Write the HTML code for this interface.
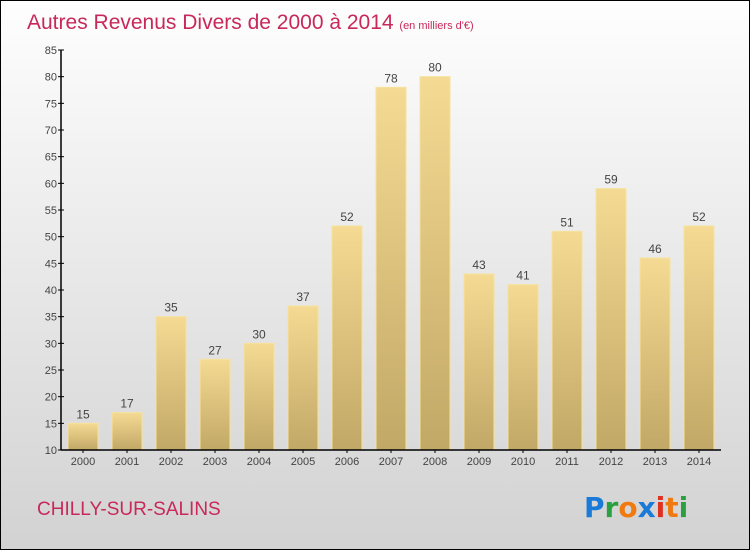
<!DOCTYPE html>
<html><head><meta charset="utf-8"><style>
body{margin:0;}
#wrap{position:relative;width:748px;height:548px;border:1px solid #000;background:linear-gradient(#fefefe,#d2d2d2);overflow:hidden;font-family:"Liberation Sans",sans-serif;}
</style></head><body>
<div id="wrap">
<svg id="c" width="748" height="548">
<defs><linearGradient id="bg" x1="0" y1="0" x2="0" y2="1"><stop offset="0" stop-color="#f4da92"/><stop offset="1" stop-color="#c2a866"/></linearGradient></defs>
<text x="26" y="28" font-size="21" fill="#c8285a">Autres Revenus Divers de 2000 à 2014 <tspan font-size="11">(en milliers d'€)</tspan></text>
<text x="36" y="514" font-size="19" fill="#c8285a">CHILLY-SUR-SALINS</text>
<g font-size="28" font-weight="bold" font-family="'DejaVu Sans',sans-serif">
<text x="583" y="516"><tspan fill="#1a7ad8">P</tspan><tspan fill="#2aa040">r</tspan><tspan fill="#f07a10">o</tspan><tspan fill="#1a7ad8">x</tspan><tspan fill="#e03020">i</tspan><tspan fill="#f07a10">t</tspan><tspan fill="#2aa040">i</tspan></text></g>
<g id="plot"></g>
</svg></div>
<script>
const years=["2000","2001","2002","2003","2004","2005","2006","2007","2008","2009","2010","2011","2012","2013","2014"];
const values=[15,17,35,27,30,37,52,78,80,43,41,51,59,46,52];
const yTicks=[10,15,20,25,30,35,40,45,50,55,60,65,70,75,80,85];
const ns="http://www.w3.org/2000/svg";
const g=document.getElementById('plot');
const x0=60,x1=720,yMin=10,yMax=85,yb=449,yt=49;
const y=v=>yb-(v-yMin)/(yMax-yMin)*(yb-yt);
const step=(x1-x0)/years.length;
function mk(t,a,txt){const e=document.createElementNS(ns,t);for(const k in a)e.setAttribute(k,a[k]);if(txt!==undefined)e.textContent=txt;g.appendChild(e);return e;}
values.forEach((v,i)=>{
 const cx=x0+step*(i+0.5);
 const b=mk('rect',{x:cx-15,y:y(v),width:30,height:yb-y(v),fill:'url(#bg)',stroke:'#f6e29e','stroke-width':1});
 
 
 const l=mk('text',{x:cx,y:y(v)-5,'text-anchor':'middle','font-size':12,fill:'#444'},v);
 
 
 const t=mk('text',{x:cx,y:yb+15,'text-anchor':'middle','font-size':11,fill:'#444'},years[i]);
 
 
 mk('line',{x1:cx,x2:cx,y1:yb,y2:yb+3,stroke:'#000'});
});
yTicks.forEach(v=>{
 mk('line',{x1:x0-3,x2:x0+3,y1:y(v),y2:y(v),stroke:'#000'});
 const t=mk('text',{x:x0-4,y:y(v)+4,'text-anchor':'end','font-size':11,fill:'#444'},v);
 
 
});
const ya=mk('line',{x1:x0,x2:x0,y1:yt,y2:yb,stroke:'#000','stroke-width':1.5});


const xa=mk('line',{x1:x0,x2:x1,y1:yb,y2:yb,stroke:'#000','stroke-width':1.5});


</script>
</body></html>
